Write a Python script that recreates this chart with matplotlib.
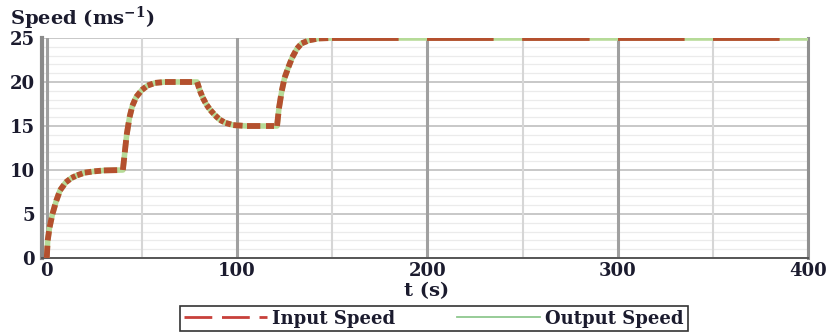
import matplotlib
matplotlib.use("Agg")
import matplotlib.pyplot as plt
from matplotlib.lines import Line2D
import numpy as np

# values (time in s, speed in m/s)
t = [0, 0.5, 1.5, 3, 5, 7, 10, 13, 16, 20, 25, 30, 40,
     41, 42, 43.5, 45, 47, 50, 53, 57, 62, 70, 79,
     80.5, 82, 84, 86, 88.5, 91, 94, 98, 105, 115, 121,
     122, 123.5, 125, 127, 129, 131.5, 134, 138, 143, 150,
     200, 250, 300, 350, 400]
input_speed = [0, 2, 3.5, 5, 6.5, 7.7, 8.6, 9.1, 9.4, 9.7, 9.85, 9.95, 10,
               12, 14, 16, 17.3, 18.3, 19.1, 19.6, 19.9, 20, 20, 20,
               19, 18.2, 17.4, 16.8, 16.2, 15.7, 15.35, 15.1, 15, 15, 15,
               17, 19, 20.5, 21.7, 22.8, 23.8, 24.4, 24.75, 24.95, 25,
               25, 25, 25, 25, 25]
output_speed = list(input_speed)

x_ticks = [0, 100, 200, 300, 400]
x_minor = [50, 150, 250, 350]
y_ticks = [0, 5, 10, 15, 20, 25]

RED = "#b4502e"
GREEN = "#b6db98"
TXT = "#1b1b2e"

plt.rcParams["font.family"] = "DejaVu Serif"
plt.rcParams["font.weight"] = "bold"
plt.rcParams["mathtext.fontset"] = "dejavuserif"
plt.rcParams["lines.scale_dashes"] = False

fig = plt.figure(figsize=(8.3, 3.35), dpi=100)
ax = fig.add_axes([42 / 830, 77 / 335, 766 / 830, 220 / 335])
ax.set_xlim(-2.5, 400)
ax.set_ylim(0, 25)

# horizontal grid from the axis, vertical lines drawn over it
ax.set_xticks(x_ticks)
ax.set_yticks(y_ticks)
ax.set_yticks(np.arange(0, 26, 1), minor=True)
ax.grid(which="major", axis="y", color="#c8c8c8", lw=1.4, zorder=0)
ax.grid(which="minor", axis="y", color="#ebebeb", lw=0.9, zorder=0)
ax.set_axisbelow(True)
for xv in x_ticks:
    ax.axvline(xv, color="#a0a0a0", lw=2.2, zorder=1)
for xv in x_minor:
    ax.axvline(xv, color="#d6d6d6", lw=1.5, zorder=1)

ax.spines["top"].set_visible(False)
ax.spines["left"].set_color("#8a8a8a")
ax.spines["left"].set_linewidth(3)
ax.spines["right"].set_color("#909090")
ax.spines["right"].set_linewidth(2.2)
ax.spines["bottom"].set_color("#555555")
ax.spines["bottom"].set_linewidth(1.4)

ax.tick_params(which="both", length=0)
ax.tick_params(axis="y", pad=5, labelsize=13, labelcolor=TXT)
ax.tick_params(axis="x", pad=3, labelsize=13, labelcolor=TXT)
for lab in ax.get_xticklabels() + ax.get_yticklabels():
    lab.set_fontweight("bold")

# output speed underneath, input speed dashed on top (dash pattern restarts per segment)
ax.plot(t, output_speed, color=GREEN, lw=4, solid_capstyle="butt", zorder=3)
pts = ax.transData.transform(np.column_stack([t, input_speed]))
for i in range(len(t) - 1):
    seg = np.hypot(*(pts[i + 1] - pts[i])) * 72 / fig.dpi
    if seg <= 0:
        continue
    ax.plot(t[i:i + 2], input_speed[i:i + 2], color=RED, lw=4.2,
            dashes=(0.7 * seg, 0.3 * seg), dash_capstyle="butt", zorder=4)

fig.text(427 / 830, 1 - 291 / 335, "t (s)", ha="center", va="center",
         fontsize=14, fontweight="bold", color=TXT)
fig.text(10 / 830, 1 - 18 / 335, r"Speed (ms$^{\mathbf{-1}}$)", ha="left", va="center",
         fontsize=14, fontweight="bold", color=TXT)

handles = [Line2D([], [], color="#c8403a", lw=2, dashes=(20, 7)),
           Line2D([], [], color="#8fc88f", lw=1.3)]
leg = fig.legend(handles, ["Input Speed", "Output Speed"], loc="center",
                 bbox_to_anchor=(434 / 830, 1 - 318.5 / 335), ncol=2,
                 frameon=True, fancybox=False, edgecolor="black",
                 handlelength=4.6, columnspacing=3.4, handletextpad=0.3,
                 borderpad=0.2, prop={"family": "DejaVu Serif", "weight": "bold", "size": 13})
leg.get_frame().set_linewidth(1.2)
for txt in leg.get_texts():
    txt.set_color(TXT)

fig.savefig("out.png", dpi=100)
